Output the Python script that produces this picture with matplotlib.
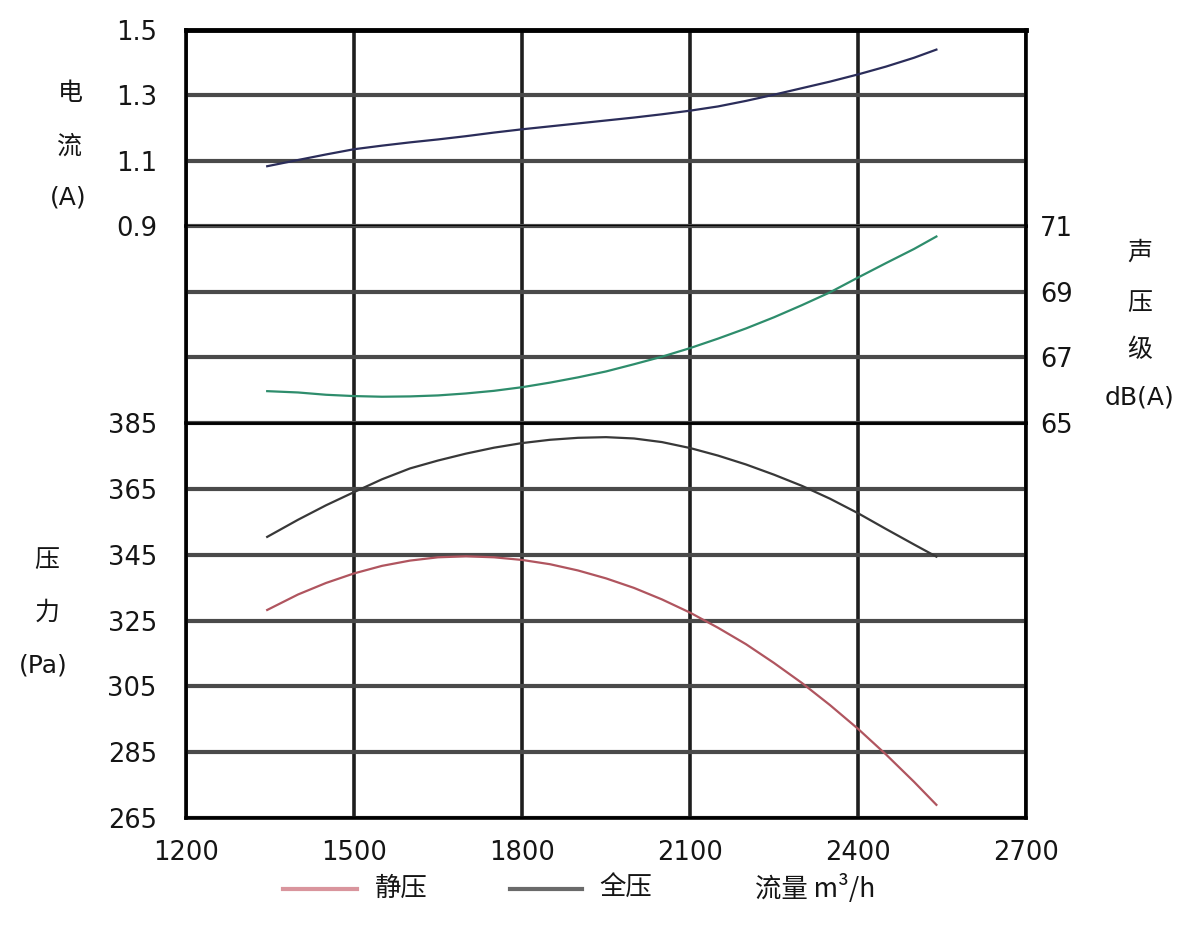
import matplotlib
matplotlib.use("Agg")
import matplotlib.pyplot as plt
from matplotlib.lines import Line2D

# ---- data (flow in m3/h) ----
flow = [1345, 1400, 1450, 1500, 1550, 1600, 1650, 1700, 1750, 1800, 1850, 1900, 1950,
        2000, 2050, 2100, 2150, 2200, 2250, 2300, 2350, 2400, 2450, 2500, 2540]
current = [1.083, 1.102, 1.119, 1.135, 1.146, 1.156, 1.165, 1.175, 1.186, 1.196, 1.205, 1.214, 1.223,
           1.232, 1.242, 1.253, 1.266, 1.283, 1.302, 1.322, 1.342, 1.364, 1.388, 1.415, 1.440]
sound = [65.97, 65.93, 65.86, 65.82, 65.80, 65.81, 65.84, 65.90, 65.98, 66.09, 66.23, 66.39, 66.57,
         66.79, 67.02, 67.28, 67.57, 67.88, 68.22, 68.59, 68.98, 69.43, 69.87, 70.30, 70.68]
total_p = [350.4, 355.6, 360.0, 364.0, 367.9, 371.2, 373.6, 375.7, 377.5, 378.9, 379.9, 380.5, 380.7,
           380.3, 379.2, 377.4, 375.1, 372.4, 369.3, 365.9, 362.0, 357.6, 352.8, 348.1, 344.4]
static_p = [328.2, 332.9, 336.4, 339.3, 341.6, 343.2, 344.2, 344.5, 344.2, 343.4, 342.1, 340.2, 337.8,
            334.9, 331.4, 327.4, 322.8, 317.8, 312.1, 306.0, 299.3, 292.1, 284.3, 276.0, 269.0]

x_ticks = [1200, 1500, 1800, 2100, 2400, 2700]
cur_ticks = [0.9, 1.1, 1.3, 1.5]
snd_ticks = [65, 67, 69, 71]
p_ticks = [265, 285, 305, 325, 345, 365, 385]

W, H = 1200, 927
fig = plt.figure(figsize=(12, 9.27), dpi=100)

def fx(px):
    return px / W

def fy(py):
    return 1 - py / H

L, R = 186, 1026
y_top, y_a, y_b, y_bot = 30, 226, 423, 818

ax_c = fig.add_axes([fx(L), fy(y_a), fx(R - L), fy(y_top) - fy(y_a)])
ax_s = fig.add_axes([fx(L), fy(y_b), fx(R - L), fy(y_a) - fy(y_b)], sharex=ax_c)
ax_p = fig.add_axes([fx(L), fy(y_bot), fx(R - L), fy(y_b) - fy(y_bot)], sharex=ax_c)

num_font = dict(family="DejaVu Sans", size=18.5, color="#151515")
cjk = ["Noto Sans CJK SC", "DejaVu Sans"]

for ax in (ax_c, ax_s, ax_p):
    ax.set_xlim(1200, 2700)
    ax.set_xticks(x_ticks)
    ax.grid(axis="x", color="#1e1e1e", lw=2.6)
    ax.grid(axis="y", color="#4a4a4a", lw=3.0)
    ax.tick_params(length=0)
    for s in ax.spines.values():
        s.set_color("black")
        s.set_linewidth(2.6)
    ax.set_axisbelow(True)

# top: current
ax_c.set_ylim(0.9, 1.5)
ax_c.set_yticks(cur_ticks)
ax_c.set_yticklabels(["0.9", "1.1", "1.3", "1.5"], fontdict=num_font)
ax_c.tick_params(axis="y", pad=21)
ax_c.tick_params(axis="x", labelbottom=False)
ax_c.spines["top"].set_linewidth(3.5)
ax_c.spines["bottom"].set_linewidth(2.0)
ax_c.plot(flow, current, color="#2b2d5a", lw=1.6)

# middle: sound level
ax_s.set_ylim(65, 71)
ax_s.set_yticks(snd_ticks)
ax_s.yaxis.tick_right()
ax_s.set_yticklabels([str(v) for v in snd_ticks], fontdict=num_font)
ax_s.tick_params(axis="y", pad=10)
ax_s.tick_params(axis="x", labelbottom=False)
ax_s.spines["top"].set_visible(False)
ax_s.spines["bottom"].set_visible(False)
ax_s.plot(flow, sound, color="#2e8d6c", lw=1.6)

# bottom: pressure
ax_p.set_ylim(265, 385)
ax_p.set_yticks(p_ticks)
ax_p.set_yticklabels([str(v) for v in p_ticks], fontdict=num_font)
ax_p.tick_params(axis="y", pad=21)
ax_p.set_xticklabels([str(v) for v in x_ticks], fontdict=num_font)
ax_p.tick_params(axis="x", pad=16)
ax_p.spines["top"].set_linewidth(2.0)
ax_p.plot(flow, total_p, color="#383838", lw=1.6)
ax_p.plot(flow, static_p, color="#b0555f", lw=1.6)

# axis titles (stacked characters)
def ftext(px, py, s, **kw):
    fig.text(fx(px), fy(py), s, ha="center", va="center", color="#151515", **kw)

ftext(70, 93, "电", family=cjk, size=18)
ftext(70, 147, "流", family=cjk, size=18)
ftext(68, 198, "(A)", family="DejaVu Sans", size=18)

ftext(47, 560, "压", family=cjk, size=18)
ftext(47, 613, "力", family=cjk, size=18)
ftext(43, 665, "(Pa)", family="DejaVu Sans", size=18)

ftext(1140, 253, "声", family=cjk, size=18)
ftext(1140, 303, "压", family=cjk, size=18)
ftext(1140, 350, "级", family=cjk, size=18)
ftext(1140, 397, "dB(A)", family="DejaVu Sans", size=18)

# legend row at the bottom
fig.add_artist(Line2D([fx(283), fx(357)], [fy(889), fy(889)], color="#d9959d", lw=3))
fig.text(fx(375), fy(888), "静压", ha="left", va="center", family=cjk, size=19, color="#151515")
fig.add_artist(Line2D([fx(510), fx(582)], [fy(889), fy(889)], color="#6a6a6a", lw=3))
fig.text(fx(599), fy(888), "全压", ha="left", va="center", family=cjk, size=19, color="#151515")
fig.text(fx(755), fy(888), "流量 m³/h", ha="left", va="center", family=cjk, size=19, color="#151515")

fig.savefig("out.png", dpi=100, facecolor="white")
